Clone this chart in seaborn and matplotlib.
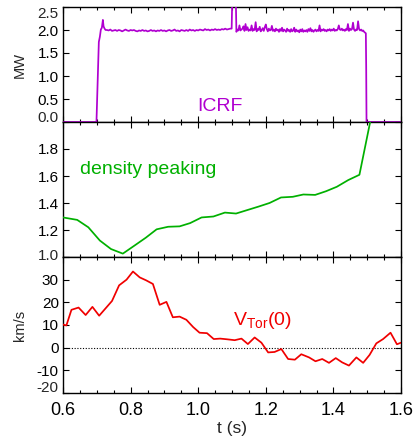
import matplotlib
matplotlib.use("Agg")
import matplotlib.pyplot as plt
import seaborn as sns
from matplotlib.ticker import MultipleLocator, FixedLocator, FuncFormatter

# ICRF heating power (MW)
icrf_t = [0.600, 0.699, 0.706, 0.709, 0.712, 0.715, 0.718, 0.720, 0.723, 0.726,
          0.730, 0.735, 0.740, 0.745, 0.750, 0.755, 0.760, 0.765, 0.770, 0.775,
          0.780, 0.785, 0.790, 0.795, 0.800, 0.805, 0.810, 0.815, 0.820, 0.825,
          0.830, 0.835, 0.840, 0.845, 0.850, 0.855, 0.860, 0.865, 0.870, 0.875,
          0.880, 0.885, 0.890, 0.895, 0.900, 0.905, 0.910, 0.915, 0.920, 0.925,
          0.930, 0.935, 0.940, 0.945, 0.950, 0.955, 0.960, 0.965, 0.970, 0.975,
          0.980, 0.985, 0.990, 0.995, 1.000, 1.005, 1.010, 1.015, 1.020, 1.025,
          1.030, 1.035, 1.040, 1.045, 1.050, 1.055, 1.060, 1.065, 1.070, 1.075,
          1.080, 1.085, 1.090, 1.095, 1.099, 1.101, 1.111, 1.113, 1.116, 1.119,
          1.122, 1.125, 1.128, 1.131, 1.134, 1.137, 1.140, 1.143, 1.146, 1.149,
          1.152, 1.155, 1.158, 1.161, 1.164, 1.167, 1.170, 1.173, 1.176, 1.179,
          1.182, 1.185, 1.188, 1.191, 1.194, 1.197, 1.200, 1.203, 1.206, 1.209,
          1.212, 1.215, 1.218, 1.221, 1.224, 1.227, 1.230, 1.233, 1.236, 1.239,
          1.242, 1.245, 1.248, 1.251, 1.254, 1.257, 1.260, 1.263, 1.266, 1.269,
          1.272, 1.275, 1.278, 1.281, 1.284, 1.287, 1.290, 1.293, 1.296, 1.299,
          1.302, 1.305, 1.308, 1.311, 1.314, 1.317, 1.320, 1.323, 1.326, 1.329,
          1.332, 1.335, 1.338, 1.341, 1.344, 1.347, 1.350, 1.353, 1.356, 1.359,
          1.362, 1.365, 1.368, 1.371, 1.374, 1.377, 1.380, 1.383, 1.386, 1.389,
          1.392, 1.395, 1.398, 1.401, 1.404, 1.407, 1.410, 1.413, 1.416, 1.419,
          1.422, 1.425, 1.428, 1.431, 1.434, 1.437, 1.440, 1.443, 1.446, 1.449,
          1.452, 1.455, 1.458, 1.461, 1.464, 1.467, 1.470, 1.473, 1.476, 1.479,
          1.482, 1.485, 1.488, 1.491, 1.494, 1.496, 1.497, 1.498, 1.600]
icrf_mw = [0.00, 0.00, 1.74, 1.85, 2.01, 2.05, 2.22, 2.08, 2.03, 2.00,
           2.00, 1.99, 2.01, 1.98, 1.99, 2.00, 1.98, 2.00, 1.99, 1.97,
           1.99, 2.01, 1.99, 1.98, 2.00, 1.99, 2.00, 1.98, 1.97, 1.99,
           1.98, 2.00, 1.98, 1.99, 1.97, 1.98, 2.00, 1.98, 1.99, 1.97,
           1.99, 1.98, 2.00, 1.98, 1.99, 1.97, 1.99, 2.00, 1.98, 1.99,
           2.01, 1.98, 1.99, 1.97, 2.00, 1.99, 1.98, 2.00, 1.98, 2.01,
           1.99, 2.00, 1.98, 2.00, 1.99, 2.01, 2.00, 1.99, 2.02, 2.00,
           2.01, 1.99, 2.01, 2.00, 2.02, 2.00, 2.01, 2.00, 2.02, 2.01,
           2.03, 2.01, 2.02, 2.03, 2.03, 2.80, 2.80, 1.96, 2.01, 1.99,
           2.10, 1.99, 2.01, 2.03, 2.08, 1.98, 2.13, 2.00, 2.06, 1.98,
           2.01, 1.99, 2.10, 1.98, 2.02, 2.00, 2.17, 1.97, 2.02, 2.00,
           2.07, 1.97, 2.00, 2.04, 1.98, 2.06, 2.12, 2.02, 1.97, 2.03,
           1.99, 2.00, 2.09, 1.98, 2.01, 1.97, 2.03, 1.99, 2.01, 1.96,
           2.02, 1.98, 2.05, 1.97, 2.01, 1.99, 1.96, 2.03, 1.98, 2.00,
           1.96, 2.02, 1.97, 1.99, 2.05, 1.96, 2.01, 1.97, 1.99, 1.95,
           2.01, 1.97, 2.02, 1.96, 1.99, 1.97, 2.00, 1.96, 2.02, 1.98,
           2.04, 1.97, 2.00, 1.96, 1.99, 2.01, 1.97, 2.00, 1.98, 2.10,
           1.97, 2.01, 1.99, 2.02, 1.98, 2.00, 1.97, 2.01, 1.99, 2.02,
           1.98, 2.01, 1.99, 2.03, 1.98, 2.00, 1.99, 2.02, 2.10, 2.01,
           2.00, 2.03, 1.99, 2.01, 1.98, 2.02, 2.00, 2.13, 1.98, 2.03,
           2.00, 2.02, 2.16, 2.01, 1.98, 2.01, 2.00, 2.19, 2.02, 1.99,
           2.01, 1.98, 1.99, 1.96, 1.94, 1.93, 1.20, 0.00, 0.00]

# Density peaking factor
peak_t = [0.600, 0.642, 0.675, 0.709, 0.742, 0.777, 0.810, 0.845, 0.877, 0.911,
          0.945, 0.976, 1.010, 1.045, 1.079, 1.112, 1.143, 1.178, 1.211, 1.245,
          1.280, 1.311, 1.346, 1.378, 1.410, 1.444, 1.477, 1.512]
peak_val = [1.293, 1.275, 1.220, 1.122, 1.059, 1.025, 1.082, 1.143, 1.205, 1.224,
            1.227, 1.251, 1.293, 1.300, 1.329, 1.322, 1.346, 1.373, 1.400, 1.441,
            1.446, 1.463, 1.460, 1.487, 1.520, 1.570, 1.609, 2.040]

# Central toroidal rotation velocity (km/s)
vtor_t = [0.600, 0.610, 0.625, 0.646, 0.667, 0.687, 0.707, 0.745, 0.766, 0.788,
          0.807, 0.827, 0.846, 0.866, 0.886, 0.906, 0.925, 0.945, 0.965, 0.985,
          1.004, 1.026, 1.046, 1.065, 1.085, 1.108, 1.128, 1.147, 1.167, 1.187,
          1.207, 1.226, 1.246, 1.266, 1.286, 1.305, 1.328, 1.347, 1.367, 1.387,
          1.407, 1.426, 1.446, 1.468, 1.488, 1.507, 1.527, 1.547, 1.569, 1.588,
          1.600]
vtor_kms = [10.2, 9.8, 16.7, 17.7, 14.4, 18.0, 14.1, 20.6, 27.5, 30.0,
            33.6, 31.0, 29.7, 28.1, 18.9, 20.2, 13.4, 13.7, 12.3, 9.1,
            6.6, 6.4, 3.8, 4.0, 3.7, 3.3, 4.0, 1.6, 4.5, 2.2,
            -2.1, -1.9, -0.6, -5.0, -5.3, -2.9, -4.3, -6.0, -5.0, -6.7,
            -4.6, -6.5, -7.9, -4.3, -6.7, -3.2, 1.9, 3.8, 6.6, 1.5,
            2.2]

PURPLE = "#B000D0"
GREEN = "#00B000"
RED = "#F00000"

sns.set_theme(style="ticks")
plt.rcParams.update({
    "font.family": ["Liberation Sans", "DejaVu Sans"],
    "mathtext.fontset": "custom",
    "mathtext.rm": "Liberation Sans",
    "mathtext.it": "Liberation Sans",
    "axes.linewidth": 1.0,
    "axes.edgecolor": "black",
    "xtick.direction": "in",
    "ytick.direction": "in",
    "xtick.top": True,
    "ytick.right": True,
    "xtick.color": "black",
    "ytick.color": "black",
    "xtick.major.size": 4.5,
    "xtick.minor.size": 2.2,
    "ytick.major.size": 4.5,
    "xtick.major.width": 0.8,
    "xtick.minor.width": 0.8,
    "ytick.major.width": 0.8,
    "xtick.labelsize": 13,
    "ytick.labelsize": 11,
    "xtick.major.pad": 6.5,
    "ytick.major.pad": 3,
})

W, H = 417.0, 444.0
fig = plt.figure(figsize=(W / 100, H / 100), dpi=100)
left, width = 63 / W, 338 / W
ax_top = fig.add_axes([left, 1 - 122 / H, width, 115 / H])
ax_mid = fig.add_axes([left, 1 - 257 / H, width, 135 / H])
ax_bot = fig.add_axes([left, 1 - 393 / H, width, 136 / H])


def end_label(ax, value, text, shift):
    # tick label at the frame edge, nudged inward so it stays beside its panel
    ax.annotate(text, xy=(0, value), xycoords=("axes fraction", "data"),
                xytext=(-3, shift), textcoords="offset points",
                ha="right", va="center_baseline", fontsize=11)


def setup(ax, ylim, yticks, fmt, hidden, show_x=False):
    ax.set_xlim(0.6, 1.6)
    ax.set_ylim(*ylim)
    ax.xaxis.set_major_locator(MultipleLocator(0.2))
    ax.xaxis.set_minor_locator(MultipleLocator(0.05))
    ax.yaxis.set_major_locator(FixedLocator(yticks))
    ax.yaxis.set_minor_locator(FixedLocator([]))
    ax.yaxis.set_major_formatter(
        FuncFormatter(lambda v, p: "" if any(abs(v - h) < 1e-9 for h in hidden) else fmt.format(v)))
    ax.xaxis.set_major_formatter(FuncFormatter(lambda v, p: f"{v:.1f}"))
    ax.tick_params(axis="x", which="both", labelbottom=show_x)
    ax.set_xlabel("")
    ax.set_ylabel("")
    for s in ax.spines.values():
        s.set_color("black")
        s.set_linewidth(1.0)
        s.set_zorder(2.5)


# ICRF panel
sns.lineplot(x=icrf_t, y=icrf_mw, ax=ax_top, color=PURPLE, linewidth=1.25,
             estimator=None, sort=False, zorder=3)
setup(ax_top, (0, 2.5), [0, 0.5, 1.0, 1.5, 2.0, 2.5], "{:.1f}", [0.0, 2.5])
end_label(ax_top, 0.0, "0.0", 3.8)
end_label(ax_top, 2.5, "2.5", -4.1)
ax_top.set_ylabel("MW", fontsize=10.5)
ax_top.yaxis.set_label_coords(-0.127, 0.5)
ax_top.yaxis.label.set_va("center")
ax_top.text(1.064, 0.33, "ICRF", color=PURPLE, fontsize=14, ha="center", va="center")

# density peaking panel
sns.lineplot(x=peak_t, y=peak_val, ax=ax_mid, color=GREEN, linewidth=1.25,
             estimator=None, sort=False, zorder=3)
setup(ax_mid, (1.0, 2.0), [1.0, 1.2, 1.4, 1.6, 1.8, 2.0], "{:.1f}", [1.0, 2.0])
end_label(ax_mid, 1.0, "1.0", 1.8)
ax_mid.text(0.65, 1.65, "density peaking", color=GREEN, fontsize=14, ha="left", va="center")

# toroidal rotation panel
ax_bot.axhline(0, color="black", linestyle=(0, (1, 1.5)), linewidth=0.8, zorder=1)
sns.lineplot(x=vtor_t, y=vtor_kms, ax=ax_bot, color=RED, linewidth=1.25,
             estimator=None, sort=False, zorder=3)
setup(ax_bot, (-20, 40), [-20, -10, 0, 10, 20, 30, 40], "{:.0f}", [-20, 40], show_x=True)
end_label(ax_bot, -20, "-20", 4.5)
ax_bot.set_ylabel("km/s", fontsize=10.5)
ax_bot.yaxis.set_label_coords(-0.127, 0.5)
ax_bot.yaxis.label.set_va("center")
ax_bot.set_xlabel("t (s)", fontsize=12.5)
ax_bot.xaxis.set_label_coords(0.5, -0.26)
ax_bot.xaxis.label.set_va("center")
ax_bot.text(1.102, 9.8, r"V$_{\mathregular{Tor}}$(0)", color=RED, fontsize=14,
            ha="left", va="baseline")

fig.savefig("out.png", dpi=100)
